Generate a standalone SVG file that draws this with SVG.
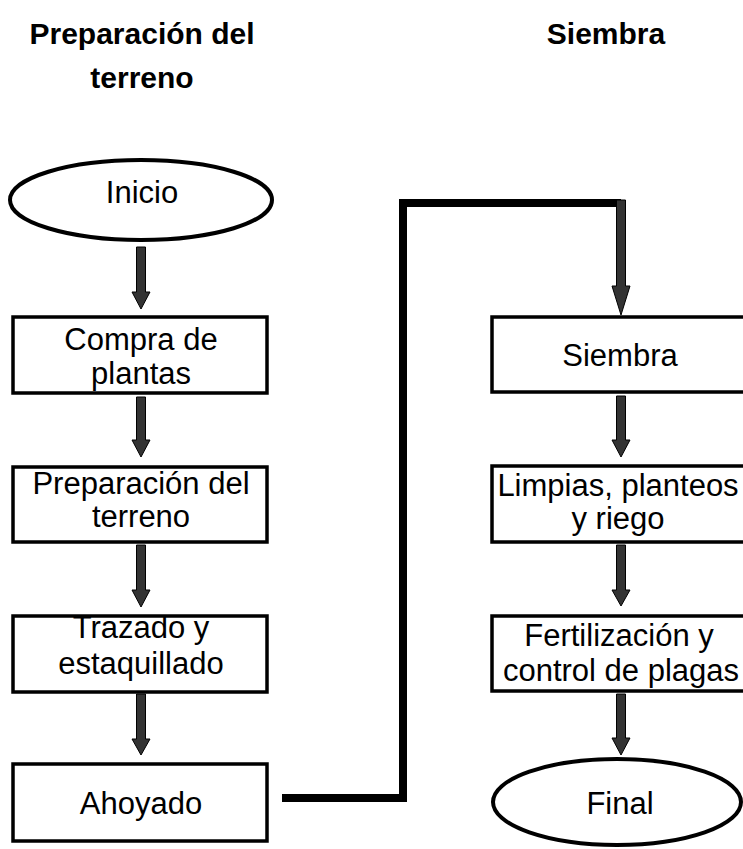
<svg xmlns="http://www.w3.org/2000/svg" width="743" height="849" viewBox="0 0 743 849">
<style>
  .hdr { font-family: "Liberation Sans", Arial, sans-serif; font-weight: bold; font-size: 30px; fill: #000; text-anchor: middle; }
  .lbl { font-family: "Liberation Sans", Arial, sans-serif; font-size: 31px; fill: #000; text-anchor: middle; }
  .box { fill: #fff; stroke: #000; stroke-width: 3.5; }
  .term { fill: #fff; stroke: #000; stroke-width: 4; }
  .arr { fill: #333; stroke: #000; stroke-width: 1; }
  .link { fill: none; stroke: #000; stroke-width: 8; stroke-linejoin: miter; }
</style>
<rect x="0" y="0" width="743" height="849" fill="#fff"/>

<g id="headers">
  <text class="hdr" x="142" y="44">Preparación del</text>
  <text class="hdr" x="142" y="88">terreno</text>
  <text class="hdr" x="606" y="44">Siembra</text>
</g>

<g id="connectors">
  <path class="link" d="M282,798 H403 V203 H621"/>
  <polygon class="arr" points="136.5,247 145.5,247 145.5,292 150,292 141,309 132,292 136.5,292"/>
  <polygon class="arr" points="136.5,397 145.5,397 145.5,440 150,440 141,457 132,440 136.5,440"/>
  <polygon class="arr" points="136.5,545 145.5,545 145.5,590 150,590 141,607 132,590 136.5,590"/>
  <polygon class="arr" points="136.5,694 145.5,694 145.5,739 150,739 141,755 132,739 136.5,739"/>
  <polygon class="arr" points="616.5,200 625.5,200 625.5,286 630,286 621,315 612,286 616.5,286"/>
  <polygon class="arr" points="616.5,396 625.5,396 625.5,440 630,440 621,457 612,440 616.5,440"/>
  <polygon class="arr" points="616.5,545 625.5,545 625.5,590 630,590 621,606 612,590 616.5,590"/>
  <polygon class="arr" points="616.5,694 625.5,694 625.5,738 630,738 621,755 612,738 616.5,738"/>
</g>

<g id="inicio">
  <ellipse class="term" cx="141" cy="200" rx="131" ry="40"/>
  <text class="lbl" x="142" y="203">Inicio</text>
</g>

<g id="compra">
  <rect class="box" x="13" y="317" width="254" height="76"/>
  <text class="lbl" x="141" y="350">Compra de</text>
  <text class="lbl" x="141" y="384">plantas</text>
</g>

<g id="preparacion">
  <rect class="box" x="13" y="467" width="254" height="75"/>
  <text class="lbl" x="141" y="494">Preparación del</text>
  <text class="lbl" x="141" y="527">terreno</text>
</g>

<g id="trazado">
  <rect class="box" x="13" y="616" width="254" height="76"/>
  <text class="lbl" x="141" y="638">Trazado y</text>
  <text class="lbl" x="141" y="674">estaquillado</text>
</g>

<g id="ahoyado">
  <rect class="box" x="13" y="764" width="254" height="77"/>
  <text class="lbl" x="141" y="814">Ahoyado</text>
</g>

<g id="siembra">
  <rect class="box" x="492" y="317" width="253" height="75"/>
  <text class="lbl" x="620" y="366">Siembra</text>
</g>

<g id="limpias">
  <rect class="box" x="492" y="466" width="253" height="76"/>
  <text class="lbl" x="618" y="496">Limpias, planteos</text>
  <text class="lbl" x="618" y="529">y riego</text>
</g>

<g id="fertilizacion">
  <rect class="box" x="492" y="616" width="253" height="75"/>
  <text class="lbl" x="619" y="646">Fertilización y</text>
  <text class="lbl" x="621" y="681">control de plagas</text>
</g>

<g id="final">
  <ellipse class="term" cx="617" cy="802" rx="124" ry="43"/>
  <text class="lbl" x="620" y="814">Final</text>
</g>
</svg>
